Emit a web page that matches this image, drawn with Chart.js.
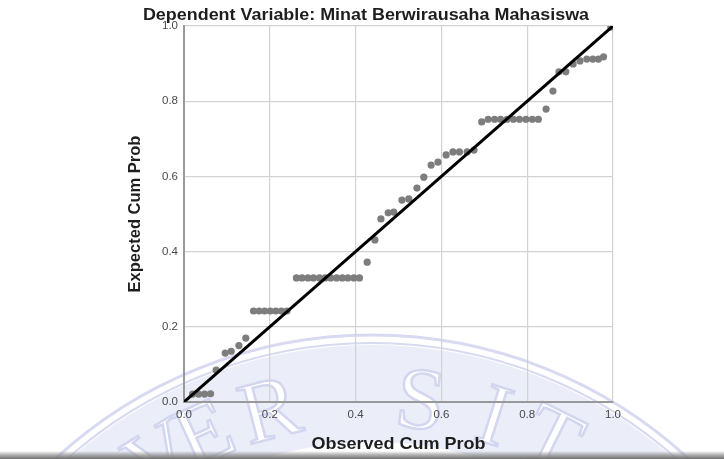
<!DOCTYPE html>
<html><head><meta charset="utf-8">
<script src="https://cdn.jsdelivr.net/npm/chart.js@4.4.1/dist/chart.umd.min.js"></script>
<style>html,body{margin:0;padding:0;background:#fff;}canvas{display:block}</style>
</head><body>
<canvas id="c" width="724" height="459"></canvas>
<script>
const chartTitle = "Dependent Variable: Minat Berwirausaha Mahasiswa";
const xTitle = "Observed Cum Prob";
const yTitle = "Expected Cum Prob";
const tickValues = [0, 0.2, 0.4, 0.6, 0.8, 1.0];
const watermarkLetters = ["V", "E", "R", "S", "I", "T"];

const observed = [
  0.020, 0.034, 0.048, 0.062,
  0.075,
  0.096, 0.110, 0.128, 0.144,
  0.162, 0.175, 0.188, 0.201, 0.214, 0.227, 0.240,
  0.262, 0.275, 0.289, 0.302, 0.316, 0.329, 0.342, 0.356, 0.369, 0.382, 0.396, 0.409,
  0.427, 0.445,
  0.459, 0.476, 0.489, 0.508, 0.524, 0.543, 0.559, 0.576, 0.592, 0.611, 0.627, 0.642, 0.660, 0.676,
  0.694, 0.709, 0.724, 0.738, 0.753, 0.768, 0.782, 0.797, 0.812, 0.826,
  0.844, 0.860,
  0.874, 0.890, 0.907, 0.923, 0.939, 0.953, 0.966, 0.978,
  0.995
];
const expected = [
  0.021, 0.021, 0.021, 0.022,
  0.085,
  0.130, 0.135, 0.150, 0.170,
  0.242, 0.242, 0.242, 0.242, 0.242, 0.242, 0.242,
  0.330, 0.330, 0.330, 0.330, 0.330, 0.330, 0.330, 0.330, 0.330, 0.330, 0.330, 0.330,
  0.372, 0.431,
  0.487, 0.503, 0.505, 0.537, 0.540, 0.569, 0.598, 0.630, 0.638, 0.657, 0.665, 0.665, 0.665, 0.670,
  0.745, 0.752, 0.752, 0.752, 0.752, 0.752, 0.752, 0.752, 0.752, 0.752,
  0.779, 0.827,
  0.878, 0.878, 0.899, 0.907, 0.912, 0.912, 0.912, 0.918,
  0.997
];
const refLineX = [0, 1];
const refLineY = [0, 1];

const points = observed.map((x, i) => ({x: x, y: expected[i]}));
const refLine = refLineX.map((x, i) => ({x: x, y: refLineY[i]}));

const FONT = '"Liberation Sans", Arial, sans-serif';

const watermark = {
  id: 'watermark',
  beforeDraw(chart) {
    const ctx = chart.ctx;
    const cx = 372, cy = 802;
    ctx.save();
    ctx.beginPath();
    ctx.arc(cx, cy, 457, Math.PI, 2 * Math.PI);
    ctx.arc(cx, cy, 360, 2 * Math.PI, Math.PI, true);
    ctx.closePath();
    ctx.fillStyle = '#ebedf9';
    ctx.fill();
    ctx.lineWidth = 3;
    ctx.strokeStyle = '#d7daf1';
    ctx.beginPath(); ctx.arc(cx, cy, 467, Math.PI, 2 * Math.PI); ctx.stroke();
    ctx.lineWidth = 2;
    ctx.beginPath(); ctx.arc(cx, cy, 459, Math.PI, 2 * Math.PI); ctx.stroke();
    const angles = [-31.6, -24.5, -14.6, 6.9, 17.6, 26.4];
    ctx.font = '88px "Liberation Serif", serif';
    ctx.textAlign = 'center';
    ctx.textBaseline = 'middle';
    watermarkLetters.forEach((ch, i) => {
      const a = angles[i] * Math.PI / 180;
      const r = 400;
      ctx.save();
      ctx.translate(cx + r * Math.sin(a), cy - r * Math.cos(a));
      ctx.rotate(a);
      ctx.fillStyle = '#ffffff';
      ctx.strokeStyle = '#d3d6ef';
      ctx.lineWidth = 2.5;
      ctx.fillText(ch, 0, 0);
      ctx.strokeText(ch, 0, 0);
      ctx.restore();
    });
    ctx.restore();
  }
};

const titles = {
  id: 'titles',
  afterDraw(chart) {
    const ctx = chart.ctx;
    const area = chart.chartArea;
    ctx.save();
    ctx.fillStyle = '#1e1e1e';
    ctx.textAlign = 'center';
    ctx.textBaseline = 'alphabetic';
    ctx.save();
    ctx.font = 'bold 16px ' + FONT;
    ctx.translate(366, 20);
    ctx.scale(1.12, 1);
    ctx.fillText(chartTitle, 0, 0);
    ctx.restore();
    ctx.save();
    ctx.font = 'bold 17px ' + FONT;
    ctx.translate((area.left + area.right) / 2, 449);
    ctx.scale(1.06, 1);
    ctx.fillText(xTitle, 0, 0);
    ctx.restore();
    ctx.save();
    ctx.font = 'bold 16.5px ' + FONT;
    ctx.translate(140, (area.top + area.bottom) / 2);
    ctx.rotate(-Math.PI / 2);
    ctx.fillText(yTitle, 0, 0);
    ctx.restore();
    const g = ctx.createLinearGradient(0, 451, 0, 459);
    g.addColorStop(0, 'rgba(140,140,140,0)');
    g.addColorStop(0.5, 'rgba(140,140,140,0.7)');
    g.addColorStop(1, 'rgba(110,110,110,1)');
    ctx.fillStyle = g;
    ctx.fillRect(0, 451, 724, 8);
    ctx.restore();
  }
};

new Chart(document.getElementById('c'), {
  type: 'scatter',
  data: {
    datasets: [
      {
        type: 'line',
        data: refLine,
        borderColor: '#000',
        borderWidth: 3,
        pointRadius: 0,
        fill: false,
        order: 0
      },
      {
        type: 'scatter',
        data: points,
        backgroundColor: '#7d7d7d',
        borderWidth: 0,
        pointRadius: 3.6,
        order: 1
      }
    ]
  },
  options: {
    responsive: false,
    animation: false,
    layout: { padding: { top: 26, right: 111, bottom: 0, left: 0 } },
    plugins: { legend: { display: false }, tooltip: { enabled: false }, title: { display: false } },
    scales: {
      x: {
        type: 'linear', min: 0, max: 1,
        afterBuildTicks(s) { s.ticks = tickValues.map(v => ({value: v})); },
        afterFit(s) { s.height = 57; },
        ticks: { padding: 6, color: '#4a4a4a', font: { size: 11.5, family: FONT },
                 callback: v => Number(v).toFixed(1) },
        grid: { color: '#d2d2d2', lineWidth: 1.2, drawTicks: false },
        border: { display: true, color: '#999', width: 2 }
      },
      y: {
        type: 'linear', min: 0, max: 1,
        afterBuildTicks(s) { s.ticks = tickValues.map(v => ({value: v})); },
        afterFit(s) { s.width = 184; },
        ticks: { padding: 6, color: '#4a4a4a', font: { size: 11.5, family: FONT },
                 callback: v => Number(v).toFixed(1) },
        grid: { color: '#d2d2d2', lineWidth: 1.2, drawTicks: false },
        border: { display: true, color: '#999', width: 2 }
      }
    }
  },
  plugins: [watermark, titles]
});
</script>
</body></html>
